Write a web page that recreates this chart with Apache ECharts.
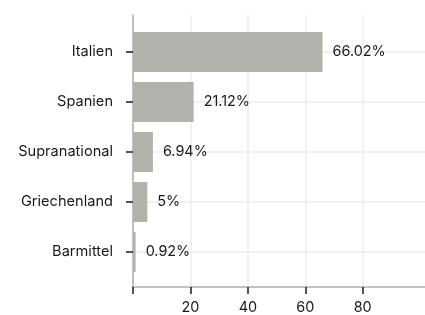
<!DOCTYPE html>
<html>
<head>
<meta charset="utf-8">
<script src="https://cdn.jsdelivr.net/npm/echarts@6/dist/echarts.min.js"></script>
<style>html,body{margin:0;padding:0;background:#fff}#c{width:425px;height:315px}</style>
</head>
<body>
<div id="c"></div>
<script>
const categories = ['Italien', 'Spanien', 'Supranational', 'Griechenland', 'Barmittel'];
const values = [66.02, 21.12, 6.94, 5, 0.92];
const xTickValues = [0, 20, 40, 60, 80];
const xLabelValues = [20, 40, 60, 80];

const chart = echarts.init(document.getElementById('c'), null, {renderer: 'canvas'});
const FONT = 'Inter';
const FS_CAT = 14.6;
const FS_VAL = 14.4;
const AX_MAX = 101.7;
chart.setOption({
  animation: false,
  textStyle: {fontFamily: FONT},
  grid: [
    {left: 133, right: 0, top: 15, bottom: 27},
    {left: 133, right: 0, top: 52, bottom: 63}
  ],
  xAxis: [
    {
      gridIndex: 0, type: 'value', min: 0, max: AX_MAX, interval: 20,
      axisLine: {show: true, lineStyle: {color: '#b0b0b0', width: 1.5}},
      axisTick: {show: true, length: 7, customValues: xTickValues, lineStyle: {color: '#1a1a1a', width: 1.5}},
      axisLabel: {customValues: xLabelValues, fontSize: FS_VAL, color: '#1a1a1a', margin: 14, fontFamily: FONT},
      splitLine: {show: true, lineStyle: {color: '#ececec', width: 1.5}}
    },
    {gridIndex: 1, type: 'value', min: 0, max: AX_MAX, show: false}
  ],
  yAxis: [
    {
      gridIndex: 0, type: 'value', min: 0, max: 1,
      axisLine: {show: true, lineStyle: {color: '#b0b0b0', width: 1.5}},
      axisTick: {show: false}, axisLabel: {show: false}, splitLine: {show: false}
    },
    {
      gridIndex: 1, type: 'category', data: categories, inverse: true, boundaryGap: false,
      axisLine: {show: false},
      axisTick: {show: true, length: 7, lineStyle: {color: '#1a1a1a', width: 1.5}},
      axisLabel: {fontSize: FS_CAT, color: '#1a1a1a', margin: 20, fontFamily: FONT},
      splitLine: {show: true, lineStyle: {color: '#ececec', width: 1.5}}
    }
  ],
  series: [{
    type: 'bar', xAxisIndex: 1, yAxisIndex: 1, data: values, barWidth: 40, clip: false,
    itemStyle: {color: '#b4b2ad'},
    label: {show: true, position: 'right', distance: 10, formatter: '{c}%', fontSize: FS_VAL, color: '#1a1a1a', fontFamily: FONT}
  }]
});
</script>
</body>
</html>
